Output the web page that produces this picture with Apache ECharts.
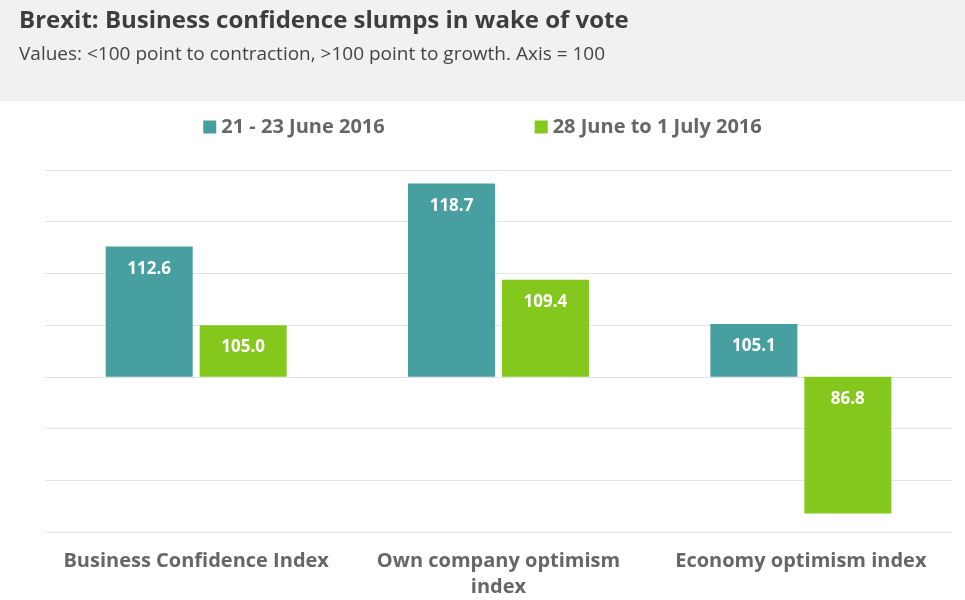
<!DOCTYPE html>
<html>
<head>
<meta charset="utf-8">
<script src="https://cdn.jsdelivr.net/npm/echarts@6/dist/echarts.min.js"></script>
<style>
  body { margin: 0; background: #fff; }
  #chart { width: 965px; height: 600px; }
</style>
</head>
<body>
<div id="chart"></div>
<script>
    // values are index points, axis crosses at 100
    const categories = ['Business Confidence Index', 'Own company optimism\nindex', 'Economy optimism index']
    const seriesNames = ['21 - 23 June 2016', '28 June to 1 July 2016']
    const before = [112.6, 118.7, 105.1]
    const after = [105.0, 109.4, 86.8]
    const baseline = 100

    const font = 'Open Sans'

    const makeSeries = (name, values, color) => ({
        name: name,
        type: 'bar',
        barWidth: 87,
        barGap: '8%',
        itemStyle: { color: color },
        data: values.map(v => ({ value: v - baseline, raw: v })),
        label: {
            show: true,
            position: 'insideTop',
            distance: 14,
            color: '#fff',
            fontSize: 17,
            fontWeight: 'bold',
            fontFamily: font,
            formatter: p => p.data.raw.toFixed(1)
        }
    })

    const myChart = echarts.init(document.getElementById('chart'))
    myChart.setOption({
        animation: false,
        graphic: [{
            type: 'rect', left: 0, top: 0,
            shape: { width: 965, height: 101 },
            style: { fill: '#f1f1f1' }
        }],
        title: {
            text: 'Brexit: Business confidence slumps in wake of vote',
            subtext: 'Values: <100 point to contraction, >100 point to growth. Axis = 100',
            left: 14, top: 4, itemGap: 12,
            textStyle: { fontSize: 24, fontWeight: 'bold', color: '#3d3d3d', fontFamily: font },
            subtextStyle: { fontSize: 19, color: '#444', fontFamily: font }
        },
        legend: {
            top: 112, left: 'center', itemGap: 150,
            itemWidth: 13, itemHeight: 13, icon: 'rect',
            textStyle: { fontSize: 20, fontWeight: 'bold', color: '#666', fontFamily: font }
        },
        grid: { left: 45, right: 13, top: 170, bottom: 68 },
        xAxis: {
            type: 'category',
            data: categories,
            axisLine: { show: false },
            axisTick: { show: false },
            axisLabel: {
                interval: 0, margin: 16, lineHeight: 26,
                fontSize: 20, fontWeight: 'bold', color: '#666', fontFamily: font
            }
        },
        yAxis: {
            type: 'value',
            min: -15, max: 20, interval: 5,
            axisLabel: { show: false },
            axisLine: { show: false },
            splitLine: { lineStyle: { color: '#e2e2e2' } }
        },
        series: [
            makeSeries(seriesNames[0], before, '#479fa0'),
            makeSeries(seriesNames[1], after, '#84c81e')
        ]
    })
</script>
</body>
</html>
